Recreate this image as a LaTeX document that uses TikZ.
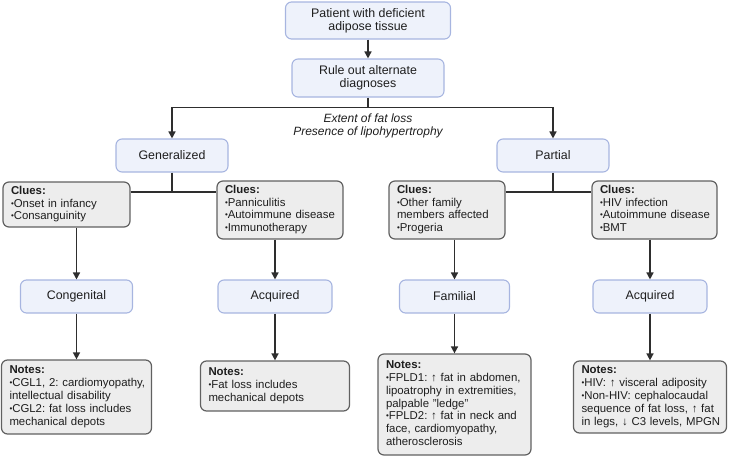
\documentclass[tikz,border=0pt]{standalone}
\usepackage{fontspec}
\setmainfont{Liberation Sans}
\usetikzlibrary{arrows.meta}

\definecolor{boxblue}{HTML}{A7B5E0}
\definecolor{bluefill}{HTML}{EEF2FB}
\definecolor{boxgray}{HTML}{616161}
\definecolor{grayfill}{HTML}{EDEDED}
\definecolor{linegray}{HTML}{2E2E2E}
\definecolor{txt}{HTML}{1E1E1E}

\newcommand{\dotitem}{{\fontsize{8}{8}\selectfont\raisebox{0.25ex}{•}}}
\newcommand{\boxlines}[1]{\begin{tabular}{@{}l@{}}#1\end{tabular}}

\tikzset{
  bluebox/.style={draw=boxblue, fill=bluefill, line width=1.1pt, rounded corners=6pt,
    minimum width=112pt, minimum height=33pt, align=center, text=txt,
    font=\fontsize{12.4}{12.9}\selectfont},
  graybox/.style={draw=boxgray, fill=grayfill, line width=1.2pt, rounded corners=6pt,
    inner xsep=8pt, inner ysep=2pt, align=left, text=txt,
    font=\fontsize{11.4}{12.8}\selectfont\frenchspacing},
  link/.style={draw=linegray, line width=1.5pt},
  flow/.style={link, -{Triangle[length=7pt,width=7pt]}}
}

\begin{document}
\begin{tikzpicture}[x=1pt,y=-1pt]
    \useasboundingbox (0,0) rectangle (729,458);

    % top of the tree
    \node[bluebox, minimum width=165pt, minimum height=37pt] (patient) at (368,20.5) {Patient with deficient\\adipose tissue};
    \node[bluebox, minimum width=152pt, minimum height=38pt] (ruleout) at (368,78) {Rule out alternate\\diagnoses};
    \draw[flow] (patient) -- (ruleout);

    % split on extent of fat loss
    \node[bluebox] (general) at (172,155.5) {Generalized};
    \node[bluebox] (partial) at (553,155.5) {Partial};
    \draw[link] (ruleout.south) -- ++(0,10) coordinate (split);
    \draw[flow] (split) -| (general.north);
    \draw[flow] (split) -| (partial.north);
    \node[font=\fontsize{12}{13}\selectfont\itshape, text=txt, align=center] (criteria) at (368,126) {Extent of fat loss\\Presence of lipohypertrophy};

    % clues
    \node[graybox, text width=111pt, minimum height=45pt] (cluesA) at (66.5,204.5) {\boxlines{\textbf{Clues:}\\\dotitem Onset in infancy\\\dotitem Consanguinity}};
    \node[graybox, text width=110pt, minimum height=58pt] (cluesB) at (280,210) {\boxlines{\textbf{Clues:}\\\dotitem Panniculitis\\\dotitem Autoimmune disease\\\dotitem Immunotherapy}};
    \node[graybox, text width=100pt, minimum height=58pt] (cluesC) at (447,210) {\boxlines{\textbf{Clues:}\\\dotitem Other family\\members affected\\\dotitem Progeria}};
    \node[graybox, text width=109pt, minimum height=58pt] (cluesD) at (654.5,210) {\boxlines{\textbf{Clues:}\\\dotitem HIV infection\\\dotitem Autoimmune disease\\\dotitem BMT}};

    \coordinate (genjoin) at (172,192);
    \coordinate (partjoin) at (553,192);
    \draw[link] (general) -- (genjoin);
    \draw[link] (cluesA.east |- genjoin) -- (cluesB.west |- genjoin);
    \draw[link] (partial) -- (partjoin);
    \draw[link] (cluesC.east |- partjoin) -- (cluesD.west |- partjoin);

    % subtypes
    \node[bluebox] (congenital) at (76.5,296.5) {Congenital};
    \node[bluebox, minimum width=114pt] (acqgen) at (275,296.5) {Acquired};
    \node[bluebox, minimum width=110pt] (familial) at (454.5,296.5) {Familial};
    \node[bluebox, minimum width=114pt] (acqpart) at (650,296.5) {Acquired};

    \draw[flow] (cluesA.south -| congenital) -- (congenital);
    \draw[flow] (cluesB.south -| acqgen) -- (acqgen);
    \draw[flow] (cluesC.south -| familial) -- (familial);
    \draw[flow] (cluesD.south -| acqpart) -- (acqpart);

    % notes
    \node[graybox, text width=134pt, minimum height=74pt] (notesA) at (76.5,397) {\boxlines{\textbf{Notes:}\\\dotitem CGL1, 2: cardiomyopathy,\\intellectual disability\\\dotitem CGL2: fat loss includes\\mechanical depots}};
    \node[graybox, text width=133pt, minimum height=50pt] (notesB) at (275,386) {\boxlines{\textbf{Notes:}\\\dotitem Fat loss includes\\mechanical depots}};
    \node[graybox, text width=137pt, minimum height=101pt] (notesC) at (454.5,404.5) {\boxlines{\textbf{Notes:}\\\dotitem FPLD1: ↑ fat in abdomen,\\lipoatrophy in extremities,\\palpable \symbol{34}ledge\symbol{34}\\\dotitem FPLD2: ↑ fat in neck and\\face, cardiomyopathy,\\atherosclerosis}};
    \node[graybox, text width=137pt, minimum height=72pt] (notesD) at (650,397) {\boxlines{\textbf{Notes:}\\\dotitem HIV: ↑ visceral adiposity\\\dotitem Non-HIV: cephalocaudal\\sequence of fat loss, ↑ fat\\in legs, ↓ C3 levels, MPGN}};

    \draw[flow] (congenital) -- (notesA);
    \draw[flow] (acqgen) -- (notesB);
    \draw[flow] (familial) -- (notesC);
    \draw[flow] (acqpart) -- (notesD);
\end{tikzpicture}
\end{document}
